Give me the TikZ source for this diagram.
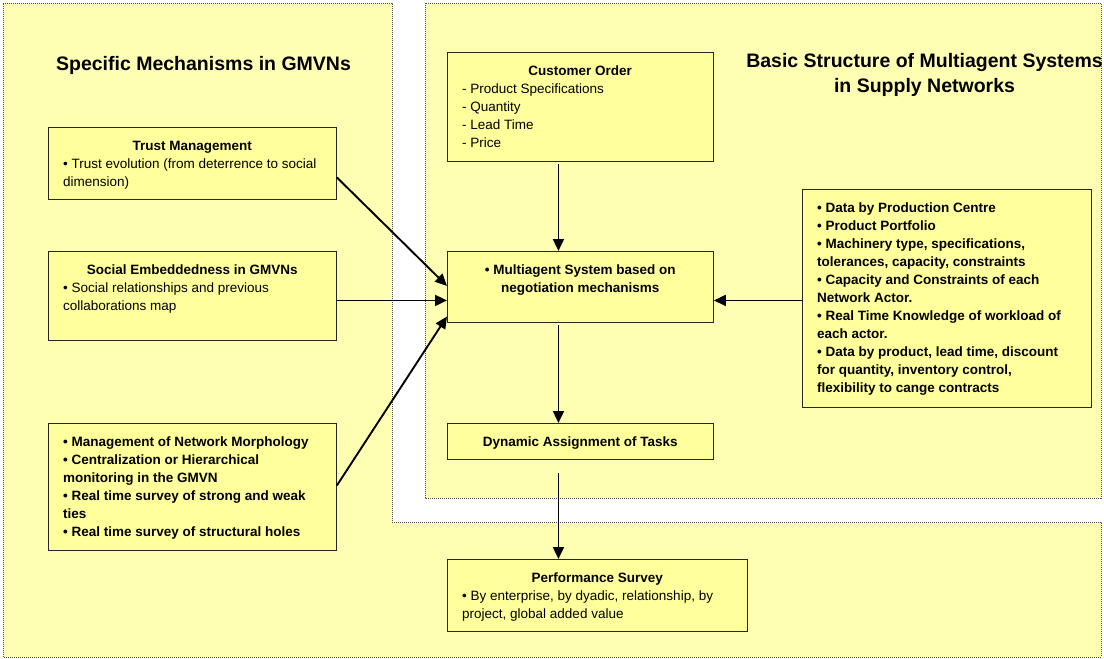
\documentclass[tikz,border=0pt]{standalone}
\usepackage{fontspec}
\setmainfont{Liberation Sans}
\usetikzlibrary{arrows.meta}
\definecolor{panelfill}{RGB}{255,255,180}
\definecolor{boxfill}{RGB}{255,255,155}
\begin{document}
\begin{tikzpicture}[x=1pt,y=-1pt,
  panel/.style={fill=panelfill, draw=black!70, line width=0.7pt, dash pattern=on 1pt off 1pt},
  box/.style={draw=black!85, line width=0.9pt, fill=boxfill, anchor=north west, inner sep=0pt},
  txt/.style={anchor=north west, inner sep=0pt, align=left, font=\fontsize{13.5pt}{18pt}\selectfont},
  arr/.style={line width=1.9pt, -{Triangle[length=12pt,width=11pt]}},
  heading/.style={font=\fontsize{19.5pt}{25pt}\selectfont\bfseries, inner sep=0pt, anchor=base, align=center}
]
\useasboundingbox[fill=white] (0,0) rectangle (1104,659);

% panels
\path[panel] (3,3) -- (392,3) -- (392,522) -- (1101,522) -- (1101,657) -- (3,657) -- cycle;
\path[panel] (425,3) rectangle (1101,498);

% headings
\node[heading] (h1) at (203.5,70) {Specific Mechanisms in GMVNs};
\node[heading] (h2) at (924.5,67) {Basic Structure of Multiagent Systems};
\node[heading] (h3) at (924.5,92) {in Supply Networks};

% boxes
\node[box, minimum width=288pt, minimum height=72pt]  (trust)  at (48,127) {};
\node[box, minimum width=288pt, minimum height=89pt]  (social) at (48,251) {};
\node[box, minimum width=288pt, minimum height=127pt] (morph)  at (48,423) {};
\node[box, minimum width=266pt, minimum height=109pt] (co)     at (447,52) {};
\node[box, minimum width=266pt, minimum height=71pt]  (multi)  at (447,251) {};
\node[box, minimum width=266pt, minimum height=36pt]  (dyn)    at (447,423) {};
\node[box, minimum width=300pt, minimum height=72pt]  (perf)   at (447,559) {};
\node[box, minimum width=289pt, minimum height=218pt] (data)   at (802,189) {};

% texts
\node[txt] (trustT) at ([shift={(15pt,-10pt)}]trust.north west)
  {\makebox[258pt]{\bfseries Trust Management\rule{0pt}{13pt}}\\
   • Trust evolution (from deterrence to social\\
   dimension)};
\node[txt] (socialT) at ([shift={(15pt,-10pt)}]social.north west)
  {\makebox[258pt]{\bfseries Social Embeddedness in GMVNs\rule{0pt}{13pt}}\\
   • Social relationships and previous\\
   collaborations map};
\node[txt, font=\fontsize{13.5pt}{18pt}\selectfont\bfseries] (morphT) at ([shift={(15pt,-10pt)}]morph.north west)
  {\rule{0pt}{13pt}• Management of Network Morphology\\
   • Centralization or Hierarchical\\
   monitoring in the GMVN\\
   • Real time survey of strong and weak\\
   ties\\
   • Real time survey of structural holes};
\node[txt] (coT) at ([shift={(15pt,-10pt)}]co.north west)
  {\makebox[236pt]{\bfseries Customer Order\rule{0pt}{13pt}}\\
   - Product Specifications\\
   - Quantity\\
   - Lead Time\\
   - Price};
\node[txt, font=\fontsize{13.5pt}{18pt}\selectfont\bfseries] (multiT) at ([shift={(15pt,-10pt)}]multi.north west)
  {\makebox[236pt]{• Multiagent System based on\rule{0pt}{13pt}}\\
   \makebox[236pt]{negotiation mechanisms}};
\node[txt, font=\fontsize{13.5pt}{18pt}\selectfont\bfseries] (dynT) at ([shift={(15pt,-10pt)}]dyn.north west)
  {\makebox[236pt]{Dynamic Assignment of Tasks\rule{0pt}{13pt}}};
\node[txt] (perfT) at ([shift={(15pt,-10pt)}]perf.north west)
  {\makebox[270pt]{\bfseries Performance Survey\rule{0pt}{13pt}}\\
   • By enterprise, by dyadic, relationship, by\\
   project, global added value};
\node[txt, font=\fontsize{13.5pt}{18pt}\selectfont\bfseries] (dataT) at ([shift={(15pt,-10pt)}]data.north west)
  {\rule{0pt}{13pt}• Data by Production Centre\\
   • Product Portfolio\\
   • Machinery type, specifications,\\
   tolerances, capacity, constraints\\
   • Capacity and Constraints of each\\
   Network Actor.\\
   • Real Time Knowledge of workload of\\
   each actor.\\
   • Data by product, lead time, discount\\
   for quantity, inventory control,\\
   flexibility to cange contracts};

% connectors
\coordinate (c1) at ([xshift=-22pt,yshift=-13pt]dyn.south);
\draw[arr] ([xshift=-22pt,yshift=-2pt]co.south) -- ([xshift=-22pt]multi.north);
\draw[arr] ([xshift=-22pt,yshift=-2pt]multi.south) -- ([xshift=-22pt]dyn.north);
\draw[arr] (c1) -- (c1 |- perf.north);
\draw[arr] ([yshift=-14pt]trust.east) -- ([yshift=1pt]multi.west);
\draw[arr] ([yshift=-4.5pt]social.east) -- ([yshift=-13.5pt]multi.west);
\draw[arr] ([yshift=1.5pt]morph.east) -- ([yshift=-29.5pt]multi.west);
\draw[arr] ([yshift=-2pt]data.west) -- ([yshift=-13.5pt]multi.east);
\end{tikzpicture}
\end{document}
